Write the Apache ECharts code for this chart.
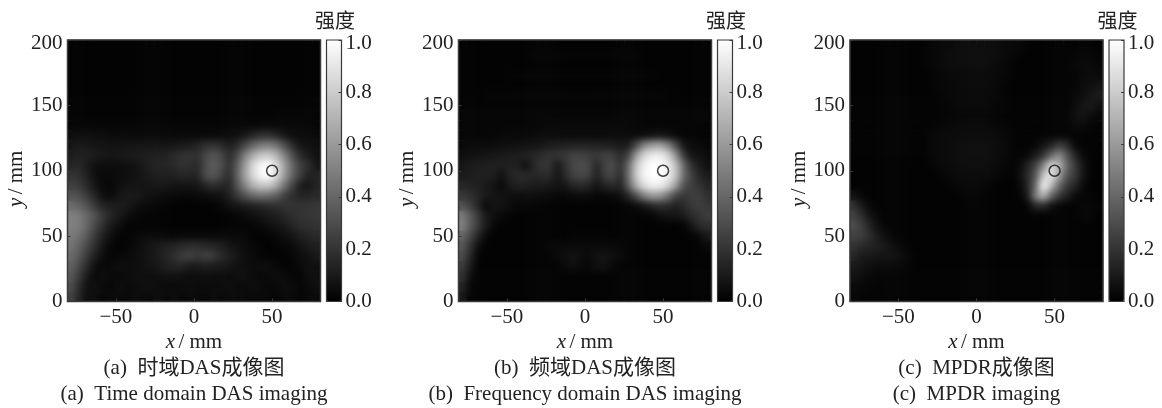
<!DOCTYPE html>
<html><head><meta charset="utf-8">
<style>
html,body{margin:0;padding:0;background:#fff;width:1162px;height:408px;overflow:hidden}
.layer{position:absolute;left:0;top:0;width:1162px;height:408px}
.soft{position:absolute;backdrop-filter:blur(3.5px);-webkit-backdrop-filter:blur(3.5px);pointer-events:none}
</style>
<script src="https://cdn.jsdelivr.net/npm/echarts@6/dist/echarts.min.js"></script>
</head><body>
<div id="img" class="layer"></div>
<div id="softA" class="soft"></div><div id="softB" class="soft"></div><div id="softC" class="soft"></div>
<div id="axes" class="layer"></div>
<script>
// column centres (mm) and row centres (mm, top row first)
const xCenters=[-78.5,-73.4,-68.3,-63.3,-58.2,-53.2,-48.1,-43,-38,-32.9,-27.8,-22.8,-17.7,-12.7,-7.6,-2.5,2.5,7.6,12.7,17.7,22.8,27.8,32.9,38,43,48.1,53.2,58.2,63.3,68.3,73.4,78.5];
const yCenters=[196,188,181,173,165,158,150,142,135,127,119,112,104,96,88,81,73,65,58,50,42,35,27,19,12,4];
const xTicks=[-50,0,50];
const targetX=[50];
const targetY=[100];
const captionsCn=['(a)  时域DAS成像图','(b)  频域DAS成像图','(c)  MPDR成像图'];
const captionsEn=['(a)  Time domain DAS imaging','(b)  Frequency domain DAS imaging','(c)  MPDR imaging'];

// intensity in percent
const timeDomain=[
[1,1,1,1,1,1,1,1,1,1,1,1,1,1,1,1,1,1,1,1,1,1,1,1,1,1,1,1,1,1,1,1],
[1,1,1,1,1,1,1,1,1,1,1,1,1,1,1,1,1,1,1,1,1,1,1,1,1,1,1,1,1,1,1,1],
[1,1,1,1,1,1,1,1,1,1,1,1,1,1,1,1,1,1,1,1,1,1,1,1,1,1,1,1,1,1,1,1],
[1,1,1,1,1,1,1,1,1,1,1,1,1,1,1,1,1,1,1,1,1,1,1,1,1,1,1,1,1,1,1,1],
[1,1,1,1,1,1,1,1,1,1,1,1,1,1,1,1,1,1,1,1,1,1,1,1,1,1,1,1,1,1,1,1],
[1,1,1,1,1,1,1,1,1,1,1,1,1,1,1,1,1,1,1,1,1,1,1,1,1,1,1,1,1,1,1,1],
[1,1,1,1,1,1,1,1,1,1,1,1,1,1,1,1,1,1,1,1,1,1,1,1,1,1,1,1,1,1,1,1],
[1,1,1,1,1,1,1,1,1,1,1,1,1,1,1,1,1,1,1,1,1,1,1,1,1,1,2,2,2,2,2,1],
[2,2,2,2,2,2,2,2,2,2,2,2,2,2,2,2,2,2,2,2,2,2,2,2,3,3,3,3,3,3,2,2],
[5,5,6,5,5,4,4,4,3,3,3,3,3,3,3,3,3,3,3,4,4,5,8,14,18,18,14,8,5,4,4,3],
[8,9,9,8,8,7,7,8,8,8,8,8,8,9,10,11,14,18,20,16,10,16,28,40,48,50,44,30,16,8,6,5],
[11,12,12,10,9,8,9,10,10,11,11,12,13,16,19,20,18,28,33,28,16,28,50,68,78,80,70,50,30,16,10,6],
[14,15,10,6,5,5,5,6,7,9,12,14,14,16,20,18,16,30,36,30,18,36,62,85,98,100,85,62,40,24,18,8],
[20,18,12,6,4,4,5,6,7,8,10,12,12,13,15,14,14,30,34,26,16,38,64,85,98,100,84,60,38,24,12,14],
[25,22,16,8,4,3,6,8,8,8,8,9,9,8,8,8,9,14,18,14,14,32,52,70,78,78,66,44,26,10,8,14],
[32,30,22,14,6,4,8,10,10,8,6,5,4,4,3,3,4,5,6,7,12,22,32,40,44,42,36,24,18,14,14,16],
[42,38,32,22,14,12,11,10,7,4,3,2,2,1,1,1,1,1,2,3,6,8,10,12,15,17,18,20,20,20,20,22],
[50,48,40,32,22,14,10,6,3,2,1,1,1,1,1,1,1,1,1,1,1,2,4,6,8,10,12,15,18,20,20,22],
[50,48,40,28,18,10,6,2,1,1,1,1,1,1,1,1,1,1,1,1,1,1,1,2,4,6,8,10,14,18,18,20],
[48,44,34,22,12,6,2,2,3,4,4,4,3,3,4,4,4,4,4,4,3,3,3,1,1,2,4,6,8,12,14,16],
[45,38,28,18,8,3,1,2,4,6,8,10,12,14,16,18,18,16,14,12,8,6,4,3,2,1,2,3,4,8,10,12],
[42,34,22,12,5,2,3,4,5,6,8,10,14,18,24,26,22,26,24,16,12,8,5,4,2,2,1,1,3,5,6,10],
[38,28,16,5,3,4,6,5,5,6,7,9,12,14,14,10,10,12,10,10,8,6,5,4,5,5,3,1,2,4,6,6],
[34,22,9,3,5,4,3,4,6,5,4,5,6,7,6,5,5,6,5,5,4,5,6,4,3,4,5,4,2,2,5,6],
[30,16,5,6,4,2,5,4,3,5,5,4,4,3,4,5,4,4,4,4,5,3,3,5,4,2,3,5,4,2,3,5],
[26,14,5,6,3,4,4,3,5,4,3,5,3,5,3,4,4,3,5,3,4,4,3,3,4,3,2,4,4,2,3,4]];

const freqDomain=[
[1,1,1,1,1,1,1,1,1,1,1,1,1,1,1,1,1,1,1,1,1,1,1,1,1,1,1,1,1,1,1,1],
[1,1,1,1,1,1,1,1,1,2,2,2,2,2,2,2,2,2,2,2,2,2,2,1,1,1,1,1,1,1,1,1],
[1,1,1,1,1,1,1,1,1,1,1,1,1,1,1,1,1,1,1,1,1,1,1,1,1,1,1,1,1,1,1,1],
[1,1,1,1,1,1,2,2,2,2,2,2,2,2,2,2,2,2,2,2,2,2,2,2,2,1,1,1,1,1,1,1],
[1,1,1,1,1,1,1,1,1,1,1,1,1,1,1,1,1,1,1,1,1,1,1,1,1,1,1,1,1,1,1,1],
[1,1,1,2,2,2,2,2,2,2,2,2,2,2,2,2,2,2,2,2,2,2,2,2,2,2,2,1,1,1,1,1],
[1,1,1,1,1,1,1,1,1,1,1,1,1,1,1,1,1,1,1,1,1,1,1,1,1,1,1,1,1,1,1,1],
[2,2,2,2,2,2,2,2,2,2,2,2,2,2,2,2,2,2,2,2,2,2,2,2,2,2,2,2,2,2,2,2],
[2,2,2,2,2,2,2,2,2,2,2,3,3,3,3,3,3,3,3,3,3,2,2,2,2,2,2,2,2,2,1,1],
[2,2,2,2,2,3,3,3,3,3,4,4,4,4,4,4,4,4,4,4,4,3,3,4,6,8,6,3,2,2,1,1],
[3,3,4,4,5,5,6,6,7,7,8,10,11,12,13,13,13,13,12,11,9,10,28,52,62,65,52,30,8,4,3,2],
[5,6,7,8,9,10,11,11,13,14,17,19,20,22,26,26,24,22,26,24,16,25,60,85,92,94,84,58,22,8,6,4],
[8,10,11,12,12,12,13,12,6,14,20,20,8,18,28,30,28,14,26,30,18,40,78,94,100,100,94,76,42,18,10,6],
[10,11,12,12,12,6,14,16,16,14,16,16,8,16,26,28,26,12,24,28,16,42,80,96,100,100,94,78,42,25,14,10],
[15,13,12,10,8,3,10,13,13,10,10,9,7,8,14,16,14,8,13,16,12,36,68,88,94,94,84,62,32,24,20,14],
[22,18,14,10,8,8,6,5,6,5,4,4,3,3,4,5,4,3,3,4,6,14,30,50,60,58,46,26,22,24,24,18],
[32,24,14,3,8,7,5,3,3,2,2,1,1,1,1,1,1,1,1,1,1,2,4,8,14,18,16,12,16,22,24,22],
[48,36,22,10,6,4,2,1,1,1,1,1,1,1,1,1,1,1,1,1,1,1,1,1,2,6,8,8,10,16,20,24],
[50,36,22,10,3,1,1,1,1,1,1,1,1,1,1,1,1,1,1,1,1,1,1,1,1,1,1,1,2,8,16,18],
[40,28,14,3,1,1,1,1,1,1,1,1,1,1,2,2,2,2,2,1,1,1,1,1,1,1,1,1,1,1,4,10],
[34,20,5,1,1,1,1,1,1,1,1,3,3,4,4,4,4,4,4,3,3,1,1,1,1,1,1,1,1,1,1,4],
[30,15,2,1,1,1,1,1,1,1,1,1,4,5,8,5,4,7,8,6,4,1,1,1,1,1,1,1,1,1,1,1],
[24,10,1,1,1,1,1,1,1,1,1,1,1,4,6,3,3,6,7,3,1,1,1,1,1,1,1,1,1,1,1,1],
[20,5,1,1,1,1,1,1,1,1,1,1,1,1,1,1,1,1,1,1,1,1,1,1,1,1,1,1,1,1,1,1],
[14,2,1,1,1,1,1,1,1,1,1,1,1,1,1,1,1,1,1,1,1,1,1,1,1,1,1,1,1,1,1,1],
[10,1,1,1,1,1,1,1,1,1,1,1,1,1,1,1,1,1,1,1,1,1,1,1,1,1,1,1,1,1,1,1]];

const mpdr=[
[1,1,1,1,1,1,1,1,1,2,3,4,4,5,5,5,5,5,5,4,4,3,2,1,1,1,1,1,1,2,2,1],
[1,1,1,1,1,1,1,1,1,2,3,4,5,5,5,5,5,5,5,4,3,2,1,1,1,1,1,1,2,3,3,2],
[1,1,1,1,1,1,1,1,1,2,3,4,5,5,5,5,5,5,4,3,2,1,1,1,1,1,1,1,3,4,4,3],
[1,1,1,1,1,1,1,1,1,1,2,3,4,4,4,4,4,4,4,3,2,1,1,1,1,1,1,1,2,4,5,4],
[1,1,1,1,1,1,1,1,1,1,2,3,3,4,4,4,4,4,3,2,1,1,1,1,1,1,1,1,2,5,6,8],
[1,1,1,1,1,1,1,1,1,1,1,2,3,3,3,3,3,3,3,2,1,1,1,1,1,1,1,1,3,5,8,11],
[1,1,1,1,1,1,1,1,1,1,1,2,2,3,3,3,3,3,2,2,1,1,1,1,1,1,1,1,4,8,10,6],
[1,1,1,1,1,1,1,1,1,1,1,1,2,2,2,2,2,2,2,1,1,1,1,1,1,1,1,1,6,8,4,3],
[1,1,1,1,1,1,1,1,1,1,1,2,3,3,3,3,3,3,2,2,1,1,1,1,1,1,1,1,4,4,2,1],
[1,1,1,1,1,1,1,1,1,1,3,4,4,4,4,4,4,4,4,3,2,1,1,1,1,1,1,1,1,1,1,1],
[1,1,1,1,1,1,1,1,1,1,3,4,4,5,5,5,5,5,4,4,2,1,1,2,8,12,24,16,2,1,1,1],
[1,1,1,1,1,1,1,1,1,1,3,4,4,5,5,5,5,5,4,4,2,1,3,10,20,40,54,32,14,3,1,1],
[1,1,1,1,1,1,1,1,1,1,2,4,4,5,5,5,5,5,4,3,2,4,14,26,52,85,70,40,22,8,1,1],
[1,1,1,1,1,1,1,1,1,1,1,2,4,4,4,4,4,4,3,2,1,6,16,34,78,92,60,32,22,8,1,1],
[1,1,1,1,1,1,1,1,1,1,1,1,2,3,3,3,3,2,1,1,1,3,14,42,98,72,40,22,14,4,1,1],
[8,3,1,1,1,1,1,1,1,1,1,1,1,1,2,2,2,1,1,1,1,2,10,50,72,40,22,12,4,2,2,1],
[20,10,3,1,1,1,1,1,1,1,1,1,1,1,1,2,1,1,1,1,1,1,2,16,16,6,2,1,1,3,3,2],
[26,18,8,3,1,1,1,1,1,1,1,1,1,1,1,1,1,1,1,1,1,1,1,1,1,1,1,1,1,3,3,1],
[30,24,14,6,2,1,1,1,1,1,1,1,1,1,1,1,1,1,1,1,1,1,1,1,1,1,1,1,1,1,1,1],
[26,24,18,10,5,2,1,1,1,1,1,1,1,1,1,1,1,1,1,1,1,1,1,1,1,1,1,1,1,1,1,1],
[20,16,14,12,9,6,3,1,1,1,1,1,1,1,1,1,1,1,1,1,1,1,1,1,1,1,1,1,1,1,1,1],
[15,10,10,8,8,7,5,3,1,1,1,1,1,1,1,1,1,1,1,1,1,1,1,1,1,1,1,1,1,1,1,1],
[10,8,6,4,4,4,3,2,1,1,1,1,1,1,1,1,1,1,1,1,1,1,1,1,1,1,1,1,1,1,1,1],
[7,5,3,2,1,1,1,1,1,1,1,1,1,1,1,1,1,1,1,1,1,1,1,1,1,1,1,1,1,1,1,1],
[4,3,2,1,1,1,1,1,1,1,1,1,1,1,1,1,1,1,1,1,1,1,1,1,1,1,1,1,1,1,1,1],
[3,2,1,1,1,1,1,1,1,1,1,1,1,1,1,1,1,1,1,1,1,1,1,1,1,1,1,1,1,1,1,1]];

const images=[timeDomain,freqDomain,mpdr];
const plotLeft=[67.5,458.5,850], plotW=253, plotTop=40, plotH=261.5;
const barLeft=[326.5,717.5,1109], barW=15;
const serif='"Liberation Serif","Noto Sans CJK SC",serif';
const ink='#222', frame='#3a3a3a';

// ---- image layer
const imgChart=echarts.init(document.getElementById('img'),null,{renderer:'canvas'});
imgChart.setOption({
  animation:false,
  grid:plotLeft.map(l=>({left:l,top:plotTop,width:plotW,height:plotH})),
  xAxis:images.map((_,i)=>({type:'category',gridIndex:i,data:xCenters,show:false})),
  yAxis:images.map((_,i)=>({type:'category',gridIndex:i,data:yCenters.slice().reverse(),show:false})),
  visualMap:images.map((_,i)=>({type:'continuous',seriesIndex:i,min:0,max:100,left:barLeft[i],top:plotTop,
    itemWidth:barW,itemHeight:plotH,padding:0,text:null,calculable:false,realtime:false,hoverLink:false,
    inRange:{color:['#000000','#ffffff']}})),
  series:images.map((m,i)=>{
    const d=[];
    m.forEach((row,r)=>row.forEach((v,c)=>d.push([c,m.length-1-r,v])));
    return {type:'heatmap',xAxisIndex:i,yAxisIndex:i,data:d,progressive:0,itemStyle:{borderWidth:0}};
  })
});
['softA','softB','softC'].forEach((id,i)=>{
  const s=document.getElementById(id).style;
  s.left=(plotLeft[i]+1)+'px'; s.top=(plotTop+1)+'px'; s.width=(plotW-2)+'px'; s.height=(plotH-2)+'px';
});

// ---- axes, labels and target markers
const axChart=echarts.init(document.getElementById('axes'),null,{renderer:'canvas'});
const txt={fontFamily:serif,fontSize:21,color:ink};
const rich={i:{fontFamily:serif,fontSize:21,fontStyle:'italic',color:ink},n:{fontFamily:serif,fontSize:21,color:ink}};
const topLabel={t:{fontFamily:serif,fontSize:21,color:ink,padding:[6,0,0,0]}};
const grids=[],xa=[],ya=[],series=[],titles=[];
plotLeft.forEach((l,i)=>{
  const g=grids.length;
  grids.push({left:l,top:plotTop,width:plotW,height:plotH,show:true,borderColor:frame,borderWidth:1.5,backgroundColor:'transparent'});
  xa.push({type:'value',gridIndex:g,min:-81,max:81,interval:50,
    axisLine:{show:false,onZero:false},splitLine:{show:false},
    axisTick:{show:true,inside:true,length:3,lineStyle:{color:frame,width:1},customValues:xTicks},
    axisLabel:{...txt,margin:5,customValues:xTicks,formatter:v=>String(v).replace('-','\u2212')},
    name:'{i|x} {n|/ mm}',nameLocation:'middle',nameGap:28,nameTextStyle:{rich}});
  ya.push({type:'value',gridIndex:g,min:0,max:200,interval:50,
    axisLine:{show:false,onZero:false},splitLine:{show:false},
    axisTick:{show:true,inside:true,length:3,lineStyle:{color:frame,width:1}},
    axisLabel:{...txt,margin:5,rich:topLabel,formatter:v=>v===200?'{t|200}':String(v)},
    name:'{i|y} {n|/ mm}',nameLocation:'middle',nameGap:36,nameRotate:90,nameTextStyle:{rich,padding:[0,16,0,0]}});
  series.push({type:'scatter',xAxisIndex:g,yAxisIndex:g,silent:true,symbol:'circle',symbolSize:11,
    data:targetX.map((x,k)=>[x,targetY[k]]),
    itemStyle:{color:'rgba(0,0,0,0)',borderColor:'#111',borderWidth:1.5}});
  // colour-bar frame and scale
  const b=grids.length;
  grids.push({left:barLeft[i],top:plotTop,width:barW,height:plotH,show:true,borderColor:frame,borderWidth:1.2,backgroundColor:'transparent'});
  xa.push({type:'value',gridIndex:b,min:0,max:1,show:false});
  ya.push({type:'value',gridIndex:b,min:0,max:1,interval:0.2,position:'right',
    axisLine:{show:false,onZero:false},splitLine:{show:false},
    axisTick:{show:true,inside:true,length:3,lineStyle:{color:frame,width:1}},
    axisLabel:{...txt,margin:4,rich:topLabel,formatter:v=>v===1?'{t|1.0}':v.toFixed(1)}});
  const cx=l+plotW/2;
  titles.push({text:'强度',left:barLeft[i]-11.5,top:10,padding:0,textStyle:{fontFamily:'"Noto Sans CJK SC"',fontSize:20,fontWeight:'normal',color:ink}});
  titles.push({text:captionsCn[i],left:cx,top:358,textAlign:'center',padding:0,textStyle:{fontFamily:serif,fontSize:21,fontWeight:'normal',color:ink}});
  titles.push({text:captionsEn[i],left:cx,top:384,textAlign:'center',padding:0,textStyle:{fontFamily:serif,fontSize:21,fontWeight:'normal',color:ink}});
});
axChart.setOption({animation:false,backgroundColor:'transparent',title:titles,grid:grids,xAxis:xa,yAxis:ya,series});
</script>
</body></html>
